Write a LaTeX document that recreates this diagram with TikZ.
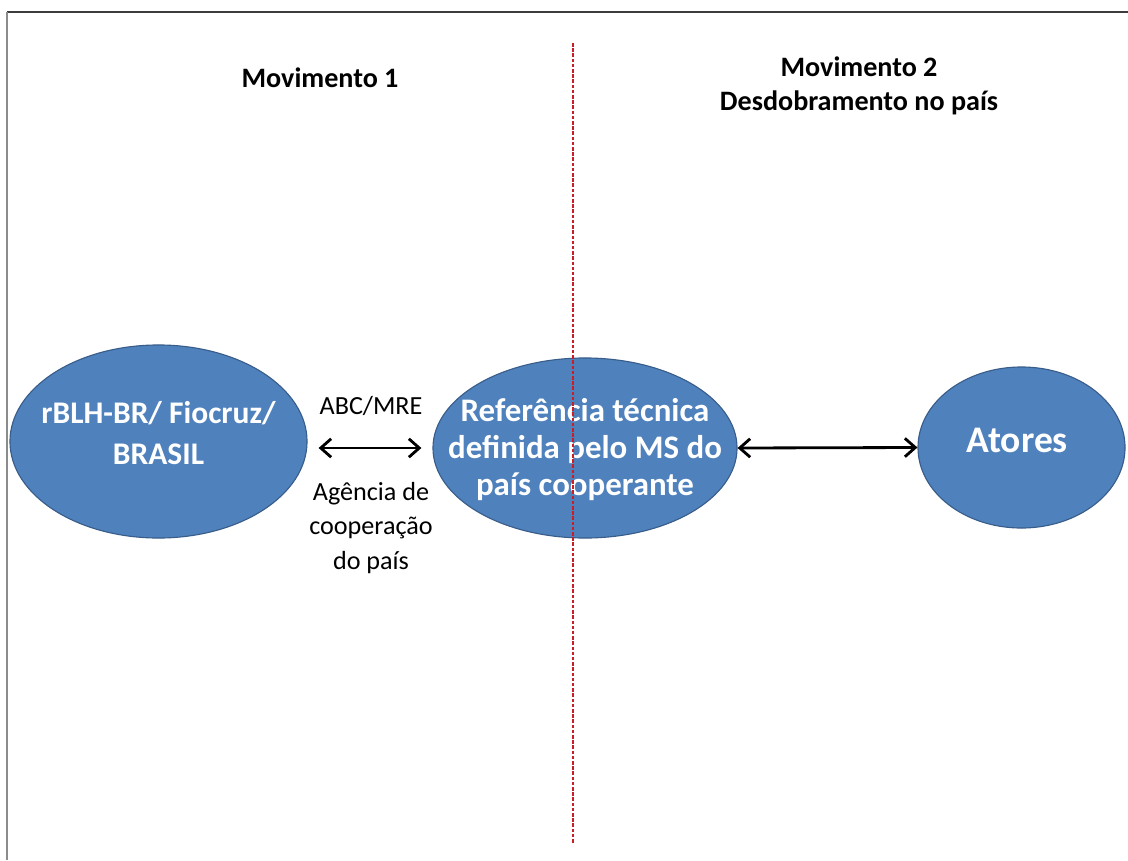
\documentclass[tikz,border=0pt]{standalone}
\usepackage{fontspec}
\setmainfont{Carlito}
\usetikzlibrary{
  shapes.geometric,
  arrows.meta,
  positioning
}
\definecolor{bolhacolor}{RGB}{79, 129, 189}
\definecolor{bordacolor}{RGB}{56, 93, 138}
\definecolor{divisacolor}{RGB}{200, 30, 40}
\definecolor{molduracolor}{RGB}{60, 60, 60}
\definecolor{molduraesq}{RGB}{140, 140, 140}
\tikzset{
bolha/.style={
  ellipse,
  draw=bordacolor,
  line width=0.8pt,
  fill=bolhacolor,
  inner sep=0pt
},
bolhatexto/.style={
  text=white,
  align=center,
  inner sep=0pt,
  font=\fontsize{23.4}{26.3}\selectfont\bfseries
},
titulo/.style={
  font=\fontsize{20}{24}\selectfont\bfseries,
  align=center
},
rotulo/.style={
  font=\fontsize{18.6}{24.5}\selectfont,
  align=center
},
duplo/.style={
  {Straight Barb[length=2.6mm,width=4.6mm]}-{Straight Barb[length=2.6mm,width=4.6mm]},
  line width=2pt
},
divisa/.style={
  draw=divisacolor,
  line width=0.8pt,
  dash pattern=on 2.5pt off 1.2pt
}
}

\begin{document}
\begin{tikzpicture}[x=0.025cm, y=-0.025cm]
      \useasboundingbox (0,0) rectangle (1128,860);

      % Moldura
      \draw[molduracolor, line width=1pt] (7,12) -- (1128,12);
      \draw[molduraesq, line width=1.4pt] (7,12) -- (7,860);

      % Titulos
      \node[titulo] (mov1) at (320,78) {Movimento 1};
      \node[titulo] (mov2) at (859,86) {Movimento 2\\Desdobramento no país};

      % Bolhas
      \node[bolha, minimum width=7.425cm, minimum height=4.825cm] (brasil) at (158.5,441.5) {};
      \node[bolha, minimum width=7.6cm, minimum height=4.5cm] (ref) at (585,448) {};
      \node[bolha, minimum width=5.175cm, minimum height=4.025cm] (atores) at (1021.5,447.5) {};

      % Textos das bolhas
      \node[bolhatexto, font=\fontsize{22.4}{29.5}\selectfont\bfseries] (brasiltxt) at (158.5,433) {
        rBLH-BR/ Fiocruz/\\BRASIL
      };
      \node[bolhatexto] (reftxt) at (585,450) {
        Referência técnica\\definida pelo MS do\\país cooperante
      };
      \node[bolhatexto, font=\fontsize{26.7}{30}\selectfont\bfseries] (atorestxt) at (1021.5,440) {
        Atores
      };

      % Setas
      \draw[duplo, shorten <=11*0.025cm, shorten >=11*0.025cm] (brasil.east |- ref.west) -- (ref.west);
      \draw[duplo] (ref.east) -- (atores.west);

      % Rotulos da seta
      \node[rotulo] (abc) at (371,406) {ABC/MRE};
      \node[rotulo] (agencia) at (371,528) {Agência de\\cooperação\\do país};

      % Divisa entre os movimentos (por cima da bolha)
      \draw[divisa] (573,43) -- (573,843);
    \end{tikzpicture}
\end{document}
